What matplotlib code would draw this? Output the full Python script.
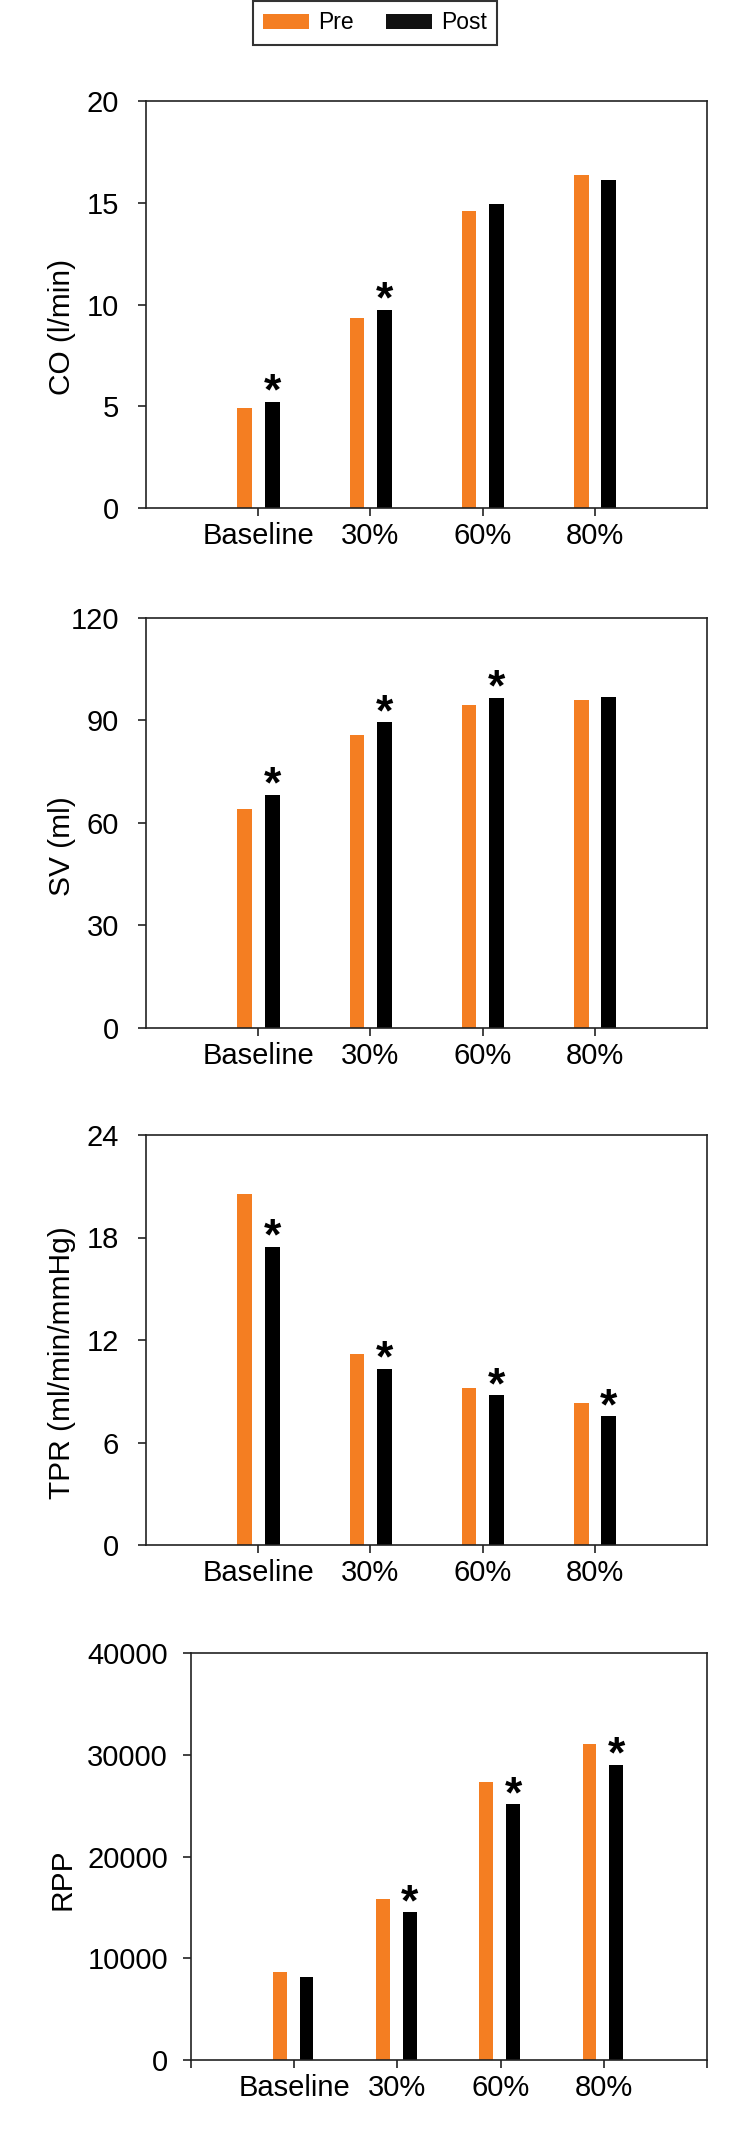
import numpy as np
import matplotlib.pyplot as plt
from matplotlib.patches import Patch

plt.rcParams['font.family'] = ['Liberation Sans', 'DejaVu Sans']

categories = ['Baseline', '30%', '60%', '80%']

co_pre = [4.90, 9.32, 14.61, 16.35]
co_post = [5.22, 9.73, 14.92, 16.13]
co_sig = [True, True, False, False]

sv_pre = [64.0, 85.7, 94.5, 95.9]
sv_post = [68.2, 89.5, 96.6, 97.0]
sv_sig = [True, True, True, False]

tpr_pre = [20.55, 11.17, 9.17, 8.32]
tpr_post = [17.45, 10.32, 8.77, 7.53]
tpr_sig = [True, True, True, True]

rpp_pre = [8650, 15830, 27280, 31100]
rpp_post = [8140, 14520, 25120, 29030]
rpp_sig = [False, True, True, True]

panels = [
    ('CO (l/min)', co_pre, co_post, co_sig, [0, 5, 10, 15, 20]),
    ('SV (ml)', sv_pre, sv_post, sv_sig, [0, 30, 60, 90, 120]),
    ('TPR (ml/min/mmHg)', tpr_pre, tpr_post, tpr_sig, [0, 6, 12, 18, 24]),
    ('RPP', rpp_pre, rpp_post, rpp_sig, [0, 10000, 20000, 30000, 40000]),
]

orange = '#F47E22'
W, H = 750, 2137
# axes boxes in pixels: left, top, right, bottom
boxes = [(146, 101, 707, 508), (146, 618, 707, 1028),
         (146, 1135, 707, 1545), (191, 1653, 707, 2060)]

fig = plt.figure(figsize=(W / 100, H / 100), dpi=100)

x = np.arange(len(categories))
bw = 0.131

for i, (label, pre, post, sig, yt) in enumerate(panels):
    l, t, r, b = boxes[i]
    ax = fig.add_axes([l / W, 1 - b / H, (r - l) / W, (b - t) / H])
    off_pre, off_post = (-0.14, 0.12) if i == 3 else (-0.12, 0.125)
    ax.bar(x + off_pre, pre, bw, color=orange)
    ax.bar(x + off_post, post, bw, color='black')
    for xi, v, s in zip(x, post, sig):
        if s:
            ax.annotate('*', xy=(xi + off_post, v), xytext=(0, -2), textcoords='offset points',
                        ha='center', va='baseline', fontsize=32, fontweight='bold')
    ax.set_xlim(-1, 4)
    ax.set_ylim(yt[0], yt[-1])
    ax.set_yticks(yt)
    if i == 3:
        ax.set_xticks([-1, 0, 1, 2, 3, 4])
        ax.set_xticklabels([''] + categories + [''])
        ytpad = 10.5
    else:
        ax.set_xticks(x)
        ax.set_xticklabels(categories)
        ytpad = 13.5
    ax.tick_params(axis='both', direction='out', length=6, width=1.2, labelsize=21, color='#222222')
    ax.tick_params(axis='y', pad=ytpad)
    ax.tick_params(axis='x', pad=4)
    for sp in ax.spines.values():
        sp.set_linewidth(1.2)
        sp.set_color('#222222')
    ax.set_ylabel(label, fontsize=21.5)
    ax.yaxis.set_label_coords(-(l - 76) / (r - l), 0.444)

handles = [Patch(facecolor=orange, label='Pre'), Patch(facecolor='#111111', label='Post')]
leg = fig.legend(handles=handles, loc='upper center', bbox_to_anchor=(0.5, 0.9995), ncol=2,
                 fontsize=16.5, frameon=True, fancybox=False, edgecolor='black',
                 handlelength=2.0, handleheight=0.62, handletextpad=0.4, columnspacing=1.4,
                 borderpad=0.45, borderaxespad=0)
leg.get_frame().set_linewidth(1.5)

fig.savefig('out.png', dpi=100)
